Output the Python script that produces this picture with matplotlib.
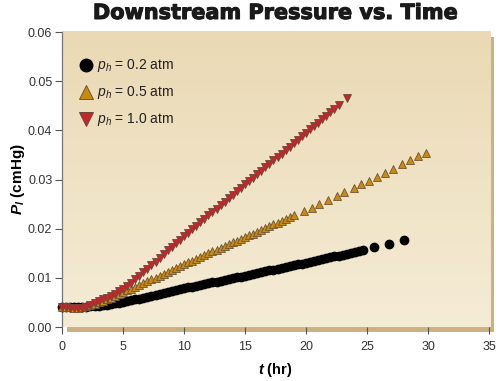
import numpy as np
import matplotlib
matplotlib.use("Agg")
import matplotlib.pyplot as plt
import matplotlib.patheffects as pe
from matplotlib.patches import Rectangle
from matplotlib.lines import Line2D
from matplotlib.colors import LinearSegmentedColormap

plt.rcParams['font.family'] = ['Liberation Sans', 'DejaVu Sans']
plt.rcParams['mathtext.fontset'] = 'custom'
plt.rcParams['mathtext.rm'] = 'Liberation Sans'
plt.rcParams['mathtext.it'] = 'Liberation Sans:italic'
plt.rcParams['mathtext.bf'] = 'Liberation Sans:bold'
plt.rcParams['mathtext.bfit'] = 'Liberation Sans:italic:bold'

# readings every 20 min (hr) for the dense part of each run
hours = [0.0, 0.33, 0.67, 1.0, 1.33, 1.67, 2.0, 2.33, 2.67, 3.0, 3.33, 3.67,
         4.0, 4.33, 4.67, 5.0, 5.33, 5.67, 6.0, 6.33, 6.67, 7.0, 7.33, 7.67,
         8.0, 8.33, 8.67, 9.0, 9.33, 9.67, 10.0, 10.33, 10.67, 11.0, 11.33, 11.67,
         12.0, 12.33, 12.67, 13.0, 13.33, 13.67, 14.0, 14.33, 14.67, 15.0, 15.33,
         15.67, 16.0, 16.33, 16.67, 17.0, 17.33, 17.67, 18.0, 18.33, 18.67, 19.0,
         19.33, 19.67, 20.0, 20.33, 20.67, 21.0, 21.33, 21.67, 22.0, 22.33, 22.67,
         23.0, 23.33, 23.67, 24.0, 24.33, 24.67]

# p_h = 0.2 atm
p02 = [0.0040, 0.0040, 0.0040, 0.0040, 0.0040, 0.0040, 0.0041, 0.0042, 0.0042,
       0.0043, 0.0044, 0.0045, 0.0046, 0.0048, 0.0049, 0.0051, 0.0052, 0.0054,
       0.0056, 0.0058, 0.0060, 0.0062, 0.0064, 0.0066, 0.0068, 0.0070, 0.0071,
       0.0073, 0.0075, 0.0077, 0.0079, 0.0081, 0.0082, 0.0084, 0.0086, 0.0087,
       0.0089, 0.0091, 0.0092, 0.0094, 0.0096, 0.0097, 0.0099, 0.0101, 0.0102,
       0.0104, 0.0106, 0.0107, 0.0109, 0.0111, 0.0113, 0.0115, 0.0117, 0.0118,
       0.0120, 0.0122, 0.0124, 0.0126, 0.0128, 0.0129, 0.0131, 0.0133, 0.0135,
       0.0137, 0.0139, 0.0140, 0.0142, 0.0144, 0.0145, 0.0147, 0.0149, 0.0151,
       0.0153, 0.0155, 0.0157]
p02_tail_t = [25.6, 26.8, 28.0]
p02_tail = [0.0163, 0.0169, 0.0177]

# p_h = 0.5 atm
p05 = [0.0040, 0.0040, 0.0040, 0.0039, 0.0039, 0.0040, 0.0042, 0.0044, 0.0047,
       0.0050, 0.0053, 0.0057, 0.0060, 0.0064, 0.0067, 0.0071, 0.0075, 0.0078,
       0.0082, 0.0086, 0.0089, 0.0093, 0.0097, 0.0100, 0.0104, 0.0108, 0.0112,
       0.0116, 0.0120, 0.0124, 0.0128, 0.0132, 0.0135, 0.0139, 0.0143, 0.0146,
       0.0150, 0.0154, 0.0157, 0.0161, 0.0165, 0.0168, 0.0172, 0.0176, 0.0179,
       0.0183, 0.0187, 0.0190, 0.0194, 0.0198, 0.0201, 0.0205, 0.0209, 0.0212,
       0.0216, 0.0220, 0.0223, 0.0227]
p05_tail_t = [19.8, 20.5, 21.1, 21.8, 22.5, 23.1, 23.9, 24.5, 25.2, 25.8, 26.5,
              27.1, 27.9, 28.5, 29.2, 29.8]
p05_tail = [0.0236, 0.0243, 0.0251, 0.0258, 0.0266, 0.0274, 0.0283, 0.0290,
            0.0298, 0.0306, 0.0314, 0.0322, 0.0331, 0.0339, 0.0347, 0.0355]

# p_h = 1.0 atm
p10 = [0.0040, 0.0040, 0.0039, 0.0038, 0.0038, 0.0039, 0.0041, 0.0044, 0.0048,
       0.0052, 0.0056, 0.0060, 0.0064, 0.0068, 0.0073, 0.0078, 0.0084, 0.0090,
       0.0097, 0.0104, 0.0111, 0.0118, 0.0126, 0.0133, 0.0141, 0.0148, 0.0156,
       0.0163, 0.0170, 0.0178, 0.0185, 0.0192, 0.0199, 0.0206, 0.0213, 0.0220,
       0.0227, 0.0234, 0.0241, 0.0248, 0.0255, 0.0262, 0.0269, 0.0276, 0.0283,
       0.0290, 0.0297, 0.0304, 0.0311, 0.0318, 0.0325, 0.0332, 0.0339, 0.0346,
       0.0353, 0.0360, 0.0367, 0.0374, 0.0381, 0.0388, 0.0395, 0.0402, 0.0409,
       0.0416, 0.0423, 0.0430, 0.0437, 0.0444, 0.0451]
p10_tail_t = [23.33]
p10_tail = [0.0465]

labels = [r'$p_h$ = 0.2 atm', r'$p_h$ = 0.5 atm', r'$p_h$ = 1.0 atm']

fig = plt.figure(figsize=(5, 3.81), dpi=100)
ax = fig.add_axes([0.124, 0.1417, 0.854, 0.774])
ax.set_xlim(0, 35)
ax.set_ylim(0, 0.06)

# beige panel with gradient and drop shadow
grad = np.linspace(0, 1, 256).reshape(-1, 1)
cmap = LinearSegmentedColormap.from_list('panel', ['#f5ecd6', '#ead9b4'])
ax.add_patch(Rectangle((0.012, -0.018), 1.0, 1.0, transform=ax.transAxes,
                       facecolor='#cdb084', edgecolor='none', zorder=0, clip_on=False))
ax.imshow(grad, extent=(0, 1.004, 0, 1.003), transform=ax.transAxes, cmap=cmap,
          aspect='auto', origin='lower', zorder=0.5, clip_on=False)
ax.set_facecolor('none')

kw = dict(linestyle='none', zorder=3, clip_on=False)
ax.plot(hours + p02_tail_t, p02 + p02_tail, marker='o', markersize=6,
        color='black', markeredgecolor='black', **kw)
ax.plot(hours[:len(p05)] + p05_tail_t, p05 + p05_tail, marker='^', markersize=6,
        color='#c98a12', markeredgecolor='#6e5532', markeredgewidth=0.6, **kw)
ax.plot(hours[:len(p10)] + p10_tail_t, p10 + p10_tail, marker='v', markersize=6,
        color='#c4262b', markeredgecolor='#6b4638', markeredgewidth=0.6, **kw)

handles = [
    Line2D([], [], linestyle='none', marker='o', markersize=9, color='black'),
    Line2D([], [], linestyle='none', marker='^', markersize=10, color='#c98a12',
           markeredgecolor='#6e5532', markeredgewidth=0.7),
    Line2D([], [], linestyle='none', marker='v', markersize=10, color='#c4262b',
           markeredgecolor='#6b4638', markeredgewidth=0.7),
]
ax.legend(handles, labels, loc='upper left', frameon=False, fontsize=10,
          handlelength=0.95, handletextpad=0.3, labelspacing=0.72,
          borderaxespad=0.0, borderpad=0.0,
          bbox_to_anchor=(0.041, 0.914), labelcolor='#222222')

ax.set_xticks([0, 5, 10, 15, 20, 25, 30, 35])
ax.set_yticks([0.00, 0.01, 0.02, 0.03, 0.04, 0.05, 0.06])
ax.yaxis.set_major_formatter(matplotlib.ticker.FormatStrFormatter('%.2f'))
ax.tick_params(direction='out', length=5, width=0.8, color='#555555',
               labelsize=9, labelcolor='#333333', pad=2)
ax.tick_params(axis='x', pad=5)
for s in ['top', 'right', 'bottom']:
    ax.spines[s].set_visible(False)
ax.spines['left'].set_color('#777777')
ax.spines['left'].set_linewidth(0.9)
ax.spines['left'].set_zorder(2)

ax.set_xlabel(r'$\mathbfit{t}$ (hr)', fontsize=10.5, fontweight='bold', labelpad=6)
ax.set_ylabel(r'$\mathbfit{P_l}$ (cmHg)', fontsize=11, fontweight='bold', labelpad=1)
fig.text(0.552, 0.966, 'Downstream Pressure vs. Time', ha='center', va='center',
         fontsize=15, fontweight='bold', color='#1a1a1a', family='DejaVu Sans',
         path_effects=[pe.withStroke(linewidth=0.8, foreground='#1a1a1a')])

fig.savefig('out.png', dpi=100)
